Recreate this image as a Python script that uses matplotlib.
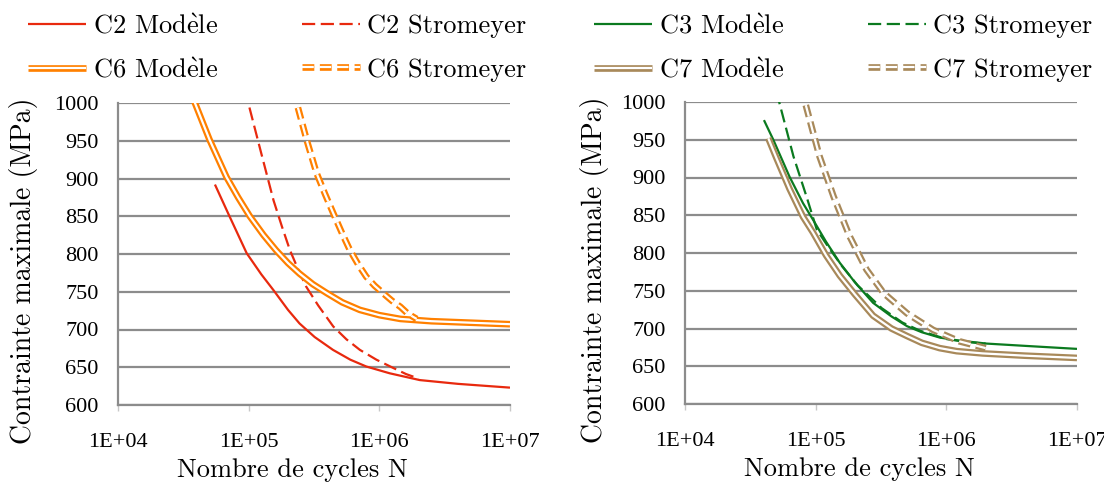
import numpy as np
import matplotlib
matplotlib.use('Agg')
import matplotlib.pyplot as plt
import matplotlib.patheffects as pe

plt.rcParams['lines.scale_dashes'] = False
plt.rcParams['axes.unicode_minus'] = False
plt.rcParams['mathtext.fontset'] = 'cm'

CM = ['cmr10', 'DejaVu Serif']
TIMES = ['Liberation Serif', 'DejaVu Serif']

# ---- data (N cycles, max stress MPa) ----
c2_mod_n = [5.52e4, 7e4, 9.66e4, 1.25e5, 1.55e5, 2.0e5, 2.45e5, 3.2e5, 4.42e5, 6e5, 7.94e5, 1.2e6, 2.04e6, 4e6, 1e7]
c2_mod_s = [892, 853, 801, 773, 752, 726, 708, 690, 673, 660, 651, 642, 633, 628, 623]
c2_str_n = [9.3e4, 9.93e4, 1.25e5, 1.55e5, 1.8e5, 2.07e5, 2.4e5, 2.75e5, 3.4e5, 4.44e5, 5.6e5, 7.1e5, 9.5e5, 1.28e6, 1.6e6, 2.0e6]
c2_str_s = [1018, 1000, 933, 871, 836, 805, 779, 757, 732, 704, 687, 673, 660, 649, 641, 635]
c6_mod_n = [3.6e4, 3.88e4, 5e4, 6.76e4, 8.3e4, 1.02e5, 1.3e5, 1.62e5, 2.0e5, 2.45e5, 3.1e5, 3.98e5, 5.2e5, 7.08e5, 1e6, 1.45e6, 2.5e6, 5e6, 1e7]
c6_mod_s = [1013, 1000, 952, 902, 875, 850, 825, 805, 788, 774, 760, 748, 736, 726, 719, 714, 711, 709, 707]
c6_str_n = [2.19e5, 2.33e5, 2.8e5, 3.31e5, 3.85e5, 4.44e5, 5.2e5, 5.96e5, 6.9e5, 7.94e5, 9.2e5, 1.07e6, 1.25e6, 1.45e6, 1.65e6, 1.93e6]
c6_str_s = [1016, 1000, 949, 907, 879, 854, 827, 805, 786, 770, 758, 748, 738, 730, 721, 714]

c3_mod_n = [4.02e4, 4.74e4, 6.31e4, 8e4, 9.55e4, 1.2e5, 1.53e5, 2.0e5, 2.75e5, 3.8e5, 5.01e5, 6.5e5, 8.9e5, 1.25e6, 2.04e6, 4e6, 1e7]
c3_mod_s = [976, 950, 901, 866, 844, 815, 787, 761, 734, 716, 703, 695, 688, 684, 680, 677, 673]
c3_str_n = [5.0e4, 5.33e4, 6.76e4, 8.5e4, 1.02e5, 1.25e5, 1.6e5, 2.1e5, 3.2e5, 4.6e5, 6.3e5, 1.0e6, 1.45e6, 2.0e6]
c3_str_s = [1014, 996, 928, 875, 831, 808, 782, 757, 727, 708, 697, 686, 682, 680]
c7_mod_n = [4.34e4, 5e4, 6.31e4, 8e4, 9.55e4, 1.2e5, 1.53e5, 2.0e5, 2.75e5, 3.8e5, 5.01e5, 6.5e5, 8.9e5, 1.2e6, 1.9e6, 4e6, 1e7]
c7_mod_s = [952, 926, 885, 848, 827, 797, 770, 745, 717, 700, 690, 681, 674, 670, 667, 664, 661]
c7_str_n = [7.76e4, 8.28e4, 1.07e5, 1.37e5, 1.82e5, 2.45e5, 3.31e5, 5.01e5, 7.94e5, 1.26e6, 2.0e6]
c7_str_s = [1018, 1000, 928, 875, 822, 778, 747, 720, 698, 683, 674]

x_ticks = [1e4, 1e5, 1e6, 1e7]
x_labels = ['1E+04', '1E+05', '1E+06', '1E+07']
y_ticks = [600, 650, 700, 750, 800, 850, 900, 950, 1000]

MOD = r'Mod$\grave{\mathrm{e}}$le'

RED = '#E8290E'
ORANGE = '#FF8000'
GREEN = '#0B7A1F'
TAN = '#A8895A'
GRID = '#8C8C8C'

DASH = (0, (9.5, 4.0))
DDASH = (0, (8.5, 4.0))

fig = plt.figure(figsize=(11.04, 4.84), dpi=100)
ax1 = fig.add_axes([118 / 1104, 1 - 405 / 484, 392 / 1104, 302 / 484])
ax2 = fig.add_axes([685 / 1104, 1 - 404 / 484, 392 / 1104, 302 / 484])


def single(ax, n, s, color, ls, label):
    return ax.plot(n, s, color=color, lw=1.6, ls=ls, label=label,
                   solid_capstyle='butt', dash_capstyle='butt')[0]


def double(ax, n, s, color, ls, label):
    # double trait : trait large coloré avec un trait blanc au centre
    ln = ax.plot(n, s, color='white', lw=1.6, ls=ls, label=label,
                 solid_capstyle='butt', dash_capstyle='butt')[0]
    ln.set_path_effects([pe.Stroke(linewidth=4.8, foreground=color), pe.Normal()])
    return ln


h1 = single(ax1, c2_mod_n, c2_mod_s, RED, '-', 'C2 ' + MOD)
h2 = single(ax1, c2_str_n, c2_str_s, RED, DASH, 'C2 Stromeyer')
h3 = double(ax1, c6_mod_n, c6_mod_s, ORANGE, '-', 'C6 ' + MOD)
h4 = double(ax1, c6_str_n, c6_str_s, ORANGE, DDASH, 'C6 Stromeyer')

g1 = single(ax2, c3_mod_n, c3_mod_s, GREEN, '-', 'C3 ' + MOD)
g2 = single(ax2, c3_str_n, c3_str_s, GREEN, DASH, 'C3 Stromeyer')
g3 = double(ax2, c7_mod_n, c7_mod_s, TAN, '-', 'C7 ' + MOD)
g4 = double(ax2, c7_str_n, c7_str_s, TAN, DDASH, 'C7 Stromeyer')

for ax, lx, ly in ((ax1, -0.204, 0.444), (ax2, -0.194, 0.444)):
    ax.set_xscale('log')
    ax.set_xlim(1e4, 1e7)
    ax.set_ylim(600, 1000)
    ax.set_xticks(x_ticks)
    ax.set_xticklabels(x_labels, family=TIMES, fontsize=16)
    ax.xaxis.set_minor_locator(matplotlib.ticker.NullLocator())
    ax.set_yticks(y_ticks)
    ax.set_yticklabels([str(v) for v in y_ticks], family=TIMES, fontsize=16)
    ax.tick_params(axis='x', length=4, width=1, color='#C8C8C8', pad=16)
    ax.tick_params(axis='y', length=0, pad=14)
    ax.grid(axis='y', color=GRID, lw=1.6)
    ax.set_axisbelow(True)
    for sp in ('top', 'right'):
        ax.spines[sp].set_visible(False)
    for sp in ('left', 'bottom'):
        ax.spines[sp].set_color(GRID)
        ax.spines[sp].set_linewidth(1.6)
    ax.set_xlabel('Nombre de cycles N', family=CM, fontsize=19)
    ax.xaxis.set_label_coords(0.446, -0.178)
    ax.set_ylabel('Contrainte maximale (MPa)', family=CM, fontsize=20)
    ax.yaxis.set_label_coords(lx, ly)

leg_kw = dict(ncol=2, frameon=False, prop={'family': CM, 'size': 19},
              handlelength=2.2, handletextpad=0.25, columnspacing=3.2,
              labelspacing=0.75, borderpad=0, borderaxespad=0,
              loc='center left', bbox_transform=fig.transFigure)
ax1.legend([h1, h3, h2, h4], [h.get_label() for h in (h1, h3, h2, h4)],
           bbox_to_anchor=(28 / 1104, 1 - 48 / 484), **leg_kw)
ax2.legend([g1, g3, g2, g4], [h.get_label() for h in (g1, g3, g2, g4)],
           bbox_to_anchor=(594 / 1104, 1 - 48 / 484), **leg_kw)

fig.savefig('out.png', dpi=100)
